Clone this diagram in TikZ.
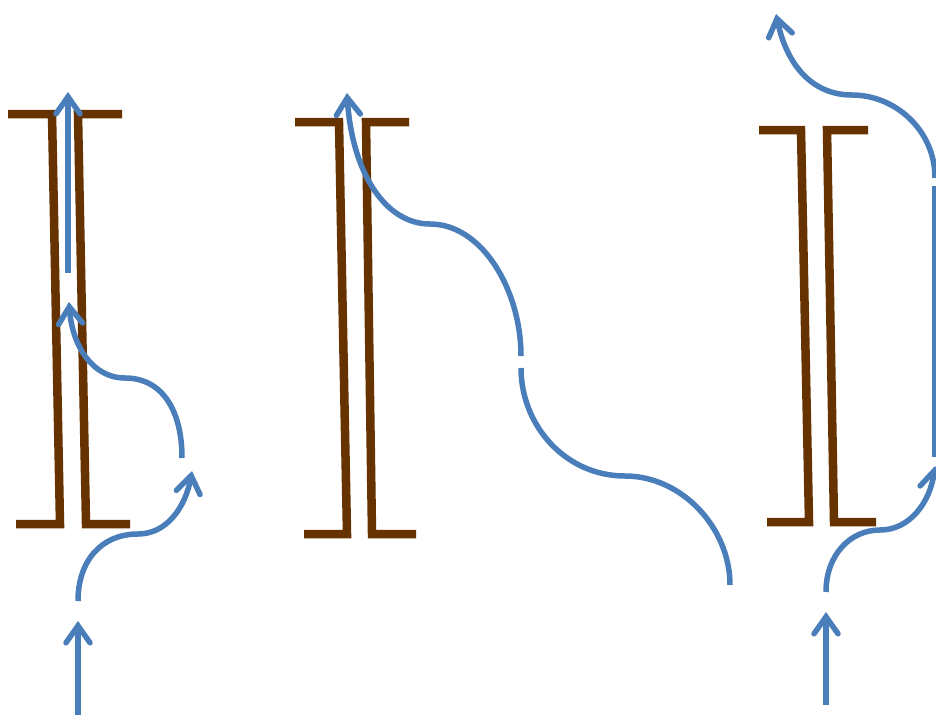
\documentclass[tikz,border=0pt]{standalone}
\usetikzlibrary{arrows.meta}
\definecolor{wallbrown}{HTML}{663300}
\definecolor{flowblue}{HTML}{4A7EBB}
\begin{document}
\begin{tikzpicture}[x=1pt, y=-1pt, >={Straight Barb[length=17pt, width=24pt, line cap=round]}]
\tikzset{
	wallline/.style={draw=wallbrown, line width=8.5pt, line join=miter},
	flowline/.style={draw=flowblue, line width=5.5pt},
	flowarrow/.style={flowline, ->}
}
\useasboundingbox (0,0) rectangle (936,715);

% channel walls
\draw[wallline] (8,114) -- (52,114) -- (60,524) -- (16,524);
\draw[wallline] (122,114) -- (78,114) -- (86,524) -- (130,524);
\draw[wallline] (295,122) -- (339,122) -- (347,534) -- (304,534);
\draw[wallline] (409,122) -- (366,122) -- (372,534) -- (416,534);
\draw[wallline] (759,130) -- (801,130) -- (809,522) -- (767,522);
\draw[wallline] (868,130) -- (827,130) -- (834,522) -- (876,522);

% channel one
\coordinate (a1) at (68,273);
\coordinate (a1tip) at (68,92);
\coordinate (b1) at (182,458);
\coordinate (b1mid) at (125,378);
\coordinate (b1tip) at (69,302);
\coordinate (c1) at (78,601);
\coordinate (c1mid) at (138,534);
\coordinate (c1tip) at (192,471);
\coordinate (d1) at (78,715);
\coordinate (d1tip) at (78,621);

\draw[flowarrow] (a1) -- (a1tip);
\draw[flowarrow] (b1) .. controls (182,410) and (162,378) .. (b1mid)
	.. controls (92,378) and (72,345) .. (b1tip);
\draw[flowarrow] (c1) .. controls (78,560) and (102,534) .. (c1mid)
	.. controls (168,534) and (186,505) .. (c1tip);
\draw[flowarrow] (d1) -- (d1tip);

% channel two
\coordinate (a2) at (730,585);
\coordinate (a2mid) at (625,476);
\coordinate (a2end) at (521,368);
\coordinate (b2) at (521,356);
\coordinate (b2mid) at (430,224);
\coordinate (b2tip) at (347,93);

\draw[flowline] (a2) .. controls (730,528) and (682,476) .. (a2mid)
	.. controls (565,476) and (521,425) .. (a2end);
\draw[flowarrow] (b2) .. controls (521,290) and (482,224) .. (b2mid)
	.. controls (385,224) and (352,172) .. (b2tip);

% channel three
\coordinate (a3) at (826,705);
\coordinate (a3tip) at (826,612);
\coordinate (b3) at (826,592);
\coordinate (b3mid) at (880,530);
\coordinate (b3tip) at (935,466);
\coordinate (c3) at (935,457);
\coordinate (c3end) at (935,186);
\coordinate (d3) at (935,178);
\coordinate (d3mid) at (852,95);
\coordinate (d3tip) at (776,14);

\draw[flowarrow] (a3) -- (a3tip);
\draw[flowarrow] (b3) .. controls (826,555) and (850,530) .. (b3mid)
	.. controls (910,530) and (930,502) .. (b3tip);
\draw[flowline] (c3) -- (c3end);
\draw[flowarrow] (d3) .. controls (935,130) and (895,95) .. (d3mid)
	.. controls (810,95) and (786,62) .. (d3tip);

\end{tikzpicture}
\end{document}
